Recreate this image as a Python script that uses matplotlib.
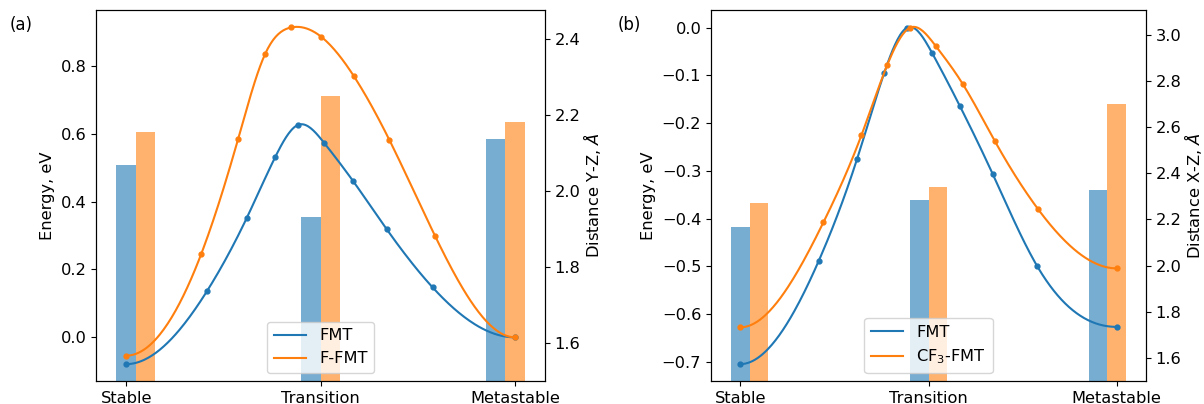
import numpy as np
import matplotlib
matplotlib.use("Agg")
import matplotlib.pyplot as plt

plt.rcParams["font.size"] = 11.7

stages = ["Stable", "Transition", "Metastable"]

# panel (a): FMT vs F-FMT, energies along the path
fmt_x_a = [0, 0.417, 0.62, 0.766, 0.885, 1.02, 1.167, 1.34, 1.577, 2.0]
fmt_e_a = [-0.079, 0.137, 0.351, 0.53, 0.626, 0.572, 0.461, 0.319, 0.147, 0.0]
ffmt_x_a = [0, 0.386, 0.576, 0.716, 0.848, 1.005, 1.17, 1.354, 1.59, 2.0]
ffmt_e_a = [-0.054, 0.245, 0.584, 0.836, 0.913, 0.885, 0.771, 0.582, 0.298, 0.0]
dist_fmt_a = [2.069, 1.933, 2.138]
dist_ffmt_a = [2.157, 2.251, 2.182]

# panel (b): FMT vs CF3-FMT
fmt_x_b = [0, 0.418, 0.621, 0.764, 0.888, 1.02, 1.166, 1.34, 1.576, 2.0]
fmt_e_b = [-0.705, -0.488, -0.275, -0.096, 0.0, -0.054, -0.164, -0.306, -0.499, -0.627]
cf3_x_b = [0, 0.442, 0.644, 0.782, 0.904, 1.038, 1.183, 1.351, 1.581, 2.0]
cf3_e_b = [-0.628, -0.408, -0.2255, -0.0775, 0.0, -0.0385, -0.119, -0.237, -0.380, -0.5045]
dist_fmt_b = [2.169, 2.283, 2.329]
dist_cf3_b = [2.269, 2.341, 2.702]


def clamped_spline(x, y, n=300):
    # cubic spline with zero slope at both ends
    x = np.asarray(x, float)
    y = np.asarray(y, float)
    m = len(x)
    h = np.diff(x)
    A = np.zeros((m, m))
    b = np.zeros(m)
    A[0, 0], A[0, 1] = 2 * h[0], h[0]
    b[0] = 6 * (y[1] - y[0]) / h[0]
    for i in range(1, m - 1):
        A[i, i - 1] = h[i - 1]
        A[i, i] = 2 * (h[i - 1] + h[i])
        A[i, i + 1] = h[i]
        b[i] = 6 * ((y[i + 1] - y[i]) / h[i] - (y[i] - y[i - 1]) / h[i - 1])
    A[-1, -2], A[-1, -1] = h[-1], 2 * h[-1]
    b[-1] = -6 * (y[-1] - y[-2]) / h[-1]
    M = np.linalg.solve(A, b)
    xs = np.linspace(x[0], x[-1], n)
    k = np.clip(np.searchsorted(x, xs) - 1, 0, m - 2)
    hk = h[k]
    t0 = x[k + 1] - xs
    t1 = xs - x[k]
    ys = (M[k] * t0**3 + M[k + 1] * t1**3) / (6 * hk) \
        + (y[k] / hk - M[k] * hk / 6) * t0 + (y[k + 1] / hk - M[k + 1] * hk / 6) * t1
    return xs, ys


def draw_panel(ax, series, dists, dist_top, right_label):
    ax2 = ax.twinx()
    pos = np.arange(3) * 0.95
    ax2.bar(pos, dists[0], width=0.1, color="C0", alpha=0.6)
    ax2.bar(pos + 0.1, dists[1], width=0.1, color="C1", alpha=0.6)
    ax2.set_ylim(1.5, dist_top)
    ax2.set_ylabel(right_label, labelpad=0.5)

    for c, (xv, ev, lab) in enumerate(series):
        xs, ys = clamped_spline(xv, ev)
        ax.plot(xs, ys, color=f"C{c}", lw=1.5, label=lab)
        ax.plot(xv, ev, "o", color=f"C{c}", ms=3.5)

    # lines and legend above the bars
    ax.set_zorder(ax2.get_zorder() + 1)
    ax.patch.set_visible(False)
    ax.set_xticks([0, 1, 2])
    ax.set_xticklabels(stages)
    ax.set_ylabel("Energy, eV")
    ax.legend(loc="lower center")
    return ax2


fig = plt.figure(figsize=(12.04, 4.04), dpi=100)
ax_a = fig.add_axes([96 / 1204, 23 / 404, 449 / 1204, 371 / 404])
ax_b = fig.add_axes([711 / 1204, 23 / 404, 435 / 1204, 371 / 404])

draw_panel(ax_a,
           [(fmt_x_a, fmt_e_a, "FMT"), (ffmt_x_a, ffmt_e_a, "F-FMT")],
           (dist_fmt_a, dist_ffmt_a), 2.477, r"Distance Y-Z, $\AA$")
draw_panel(ax_b,
           [(fmt_x_b, fmt_e_b, "FMT"), (cf3_x_b, cf3_e_b, r"CF$_3$-FMT")],
           (dist_fmt_b, dist_cf3_b), 3.107, r"Distance X-Z, $\AA$")

# bar extent plus the usual 5% margin
for ax in (ax_a, ax_b):
    ax.set_xlim(-0.155, 2.155)

fig.text(10 / 1204, 1 - 25 / 404, "(a)", va="center", fontsize=12)
fig.text(618 / 1204, 1 - 25 / 404, "(b)", va="center", fontsize=12)

fig.savefig("out.png", dpi=100)
